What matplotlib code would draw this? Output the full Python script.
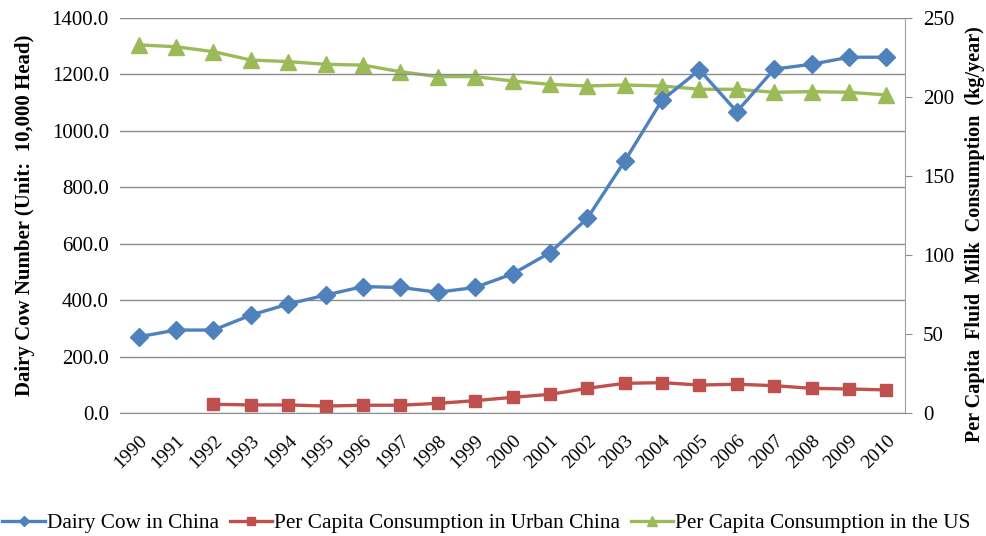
import matplotlib
matplotlib.use('Agg')
import matplotlib.pyplot as plt
import numpy as np

years = [str(y) for y in range(1990, 2011)]

# dairy cow number in China, 10,000 head (left axis)
dairy_cows = [270, 294, 294, 347, 386, 418, 448, 445, 428, 445, 493,
              568, 690, 893, 1109, 1216, 1068, 1219, 1236, 1261, 1261]

# per capita fluid milk consumption, kg/year (right axis)
urban_china_years = years[2:]
urban_china = [5.5, 5.1, 5.1, 4.4, 4.9, 4.9, 6.1, 7.8, 9.9, 11.8,
               15.6, 18.8, 19.2, 17.7, 18.2, 17.3, 15.6, 15.2, 14.6]
us = [233, 231.8, 228.7, 223.4, 222.4, 220.7, 220.2, 216, 212.9, 212.9, 210.1,
      208, 207, 207.6, 207, 204.9, 204.9, 203, 203.4, 203, 201.3]

left_ticks = [0, 200, 400, 600, 800, 1000, 1200, 1400]
right_ticks = [0, 50, 100, 150, 200, 250]

serif = ['Liberation Serif', 'DejaVu Serif']
c_blue, c_red, c_green = '#4F81BD', '#C0504D', '#9BBB59'
grid_col = '#8C8C8C'

fig = plt.figure(figsize=(9.87, 5.36), dpi=100)
ax = fig.add_axes([0.1216, 0.2295, 0.7954, 0.7369])
ax2 = ax.twinx()

x = np.arange(len(years))
xu = np.array([years.index(y) for y in urban_china_years])

l1, = ax.plot(x, dairy_cows, color=c_blue, lw=2.4, marker='D', ms=9, zorder=3)
l2, = ax2.plot(xu, urban_china, color=c_red, lw=2.4, marker='s', ms=8.5, zorder=3)
l3, = ax2.plot(x, us, color=c_green, lw=2.4, marker='^', ms=11, zorder=3)

ax.set_xlim(-0.5, len(years) - 0.5)
ax.set_ylim(0, 1400)
ax2.set_ylim(0, 250)
ax.set_yticks(left_ticks)
ax.set_yticklabels([f'{v:.1f}' for v in left_ticks], fontfamily=serif, fontsize=15)
ax2.set_yticks(right_ticks)
ax2.set_yticklabels([str(v) for v in right_ticks], fontfamily=serif, fontsize=15)

ax.set_xticks(x)
ax.set_xticklabels(years, rotation=45, ha='right', va='top', fontfamily=serif,
                   fontsize=14, rotation_mode='anchor')
ax.tick_params(axis='x', length=0, pad=14)
ax.tick_params(axis='y', length=0, pad=8)
ax2.tick_params(axis='y', length=5, color=grid_col, pad=8, direction='out')

ax.grid(axis='y', color=grid_col, lw=1)
ax.set_axisbelow(True)
for s in ['top', 'left', 'right']:
    ax.spines[s].set_visible(False)
for s in ['top', 'left', 'bottom']:
    ax2.spines[s].set_visible(False)
ax.spines['bottom'].set_color(grid_col)
ax2.spines['right'].set_color('#A0A0A0')

fig.text(25 / 987, 1 - 215 / 536, 'Dairy Cow Number (Unit:  10,000 Head)',
         family=serif, fontsize=15, fontweight='bold', rotation=90,
         ha='center', va='center')
fig.text(975 / 987, 1 - 234 / 536, 'Per Capita  Fluid  Milk  Consumption  (kg/year)',
         family=serif, fontsize=14.5, fontweight='bold', rotation=90,
         ha='center', va='center')

ax.set_zorder(ax2.get_zorder() + 1)
ax.patch.set_visible(False)

fig.legend([l1, l2, l3],
           ['Dairy Cow in China', 'Per Capita Consumption in Urban China',
            'Per Capita Consumption in the US'],
           loc='center', bbox_to_anchor=(0.493, 1 - 523 / 536), ncol=3, frameon=False,
           prop={'family': serif, 'size': 15.3}, handlelength=2.0,
           handletextpad=0.1, columnspacing=0.5, markerscale=0.6,
           borderpad=0, borderaxespad=0)

fig.savefig('out.png', dpi=100)
